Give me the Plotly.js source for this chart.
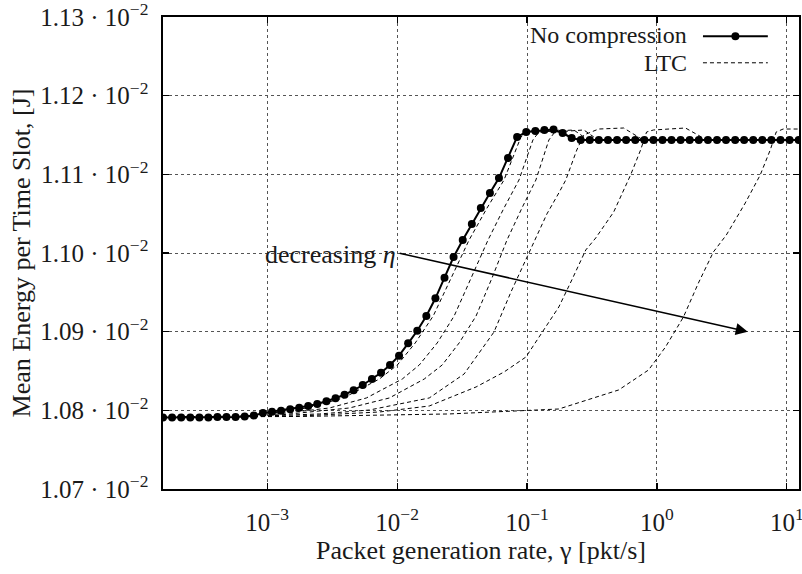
<!DOCTYPE html>
<html><head><meta charset="utf-8">
<script src="https://cdn.plot.ly/plotly-3.0.1.min.js"></script>
<style>body{margin:0;background:#fff}</style>
</head><body><div id="chart" style="width:802px;height:574px"></div>
<script>
// Energy values are in units of 10^-2 J
const gamma = [1.578e-4,1.854e-4,2.178e-4,2.559e-4,3.006e-4,3.528e-4,4.14e-4,4.86e-4,5.71e-4,6.71e-4,
 7.89e-4,9.27e-4,1.089e-3,1.279e-3,1.503e-3,1.764e-3,2.07e-3,2.43e-3,2.86e-3,3.36e-3,
 3.94e-3,4.63e-3,5.44e-3,6.40e-3,7.52e-3,8.82e-3,1.035e-2,1.216e-2,1.429e-2,1.679e-2,
 1.972e-2,2.317e-2,2.72e-2,3.20e-2,3.76e-2,4.41e-2,5.18e-2,6.08e-2,7.14e-2,8.39e-2,
 9.86e-2,0.1159,0.1361,0.160,0.188,0.2206,0.259,0.304,0.357,0.420,
 0.493,0.579,0.681,0.800,0.940,1.103,1.294,1.521,1.786,2.10,
 2.47,2.90,3.40,4.00,4.69,5.51,6.47,7.60,8.93,10.49,12.33];
const noComp = [1.07909,1.07909,1.07909,1.07909,1.07909,1.07909,1.07915,1.07915,1.07915,1.07922,
 1.07934,1.07966,1.07983,1.07996,1.08013,1.08034,1.08055,1.08081,1.08115,1.08153,
 1.08199,1.08255,1.08322,1.08398,1.08478,1.08576,1.08695,1.08852,1.09012,1.09199,
 1.09424,1.09686,1.09949,1.10165,1.10369,1.10572,1.10763,1.10953,1.11208,1.11475,
 1.11538,1.11551,1.11564,1.11570,1.11525,1.11462,1.11437,1.11437,1.11437,1.11437,
 1.11437,1.11437,1.11437,1.11437,1.11437,1.11437,1.11437,1.11437,1.11437,1.11437,
 1.11437,1.11437,1.11437,1.11437,1.11437,1.11437,1.11437,1.11437,1.11437,1.11437,1.11437];

// LTC curves, one per compression ratio (eta decreasing to the right)
const ltc1X = [1.578e-4,7.34e-4,2.01e-3,3.865e-3,7.30e-3,1.0035e-2,1.379e-2,1.896e-2,2.606e-2,3.581e-2,4.923e-2,6.65e-2,8.98e-2,0.1034,0.1757,0.2173,0.2502,12.33];
const ltc1Y = [1.07915,1.07922,1.08030,1.08157,1.08398,1.08576,1.08856,1.09199,1.09682,1.10165,1.10572,1.10928,1.11475,1.11551,1.11564,1.11462,1.11437,1.11437];
const ltc2X = [1.578e-4,8.76e-4,3.018e-3,5.80e-3,1.096e-2,1.481e-2,2.035e-2,2.748e-2,3.711e-2,5.01e-2,6.65e-2,8.67e-2,0.1110,0.1234,0.2291,0.2882,0.3262,12.33];
const ltc2Y = [1.07915,1.07928,1.08030,1.08157,1.08398,1.08576,1.08856,1.09199,1.09682,1.10165,1.10572,1.10928,1.11437,1.11538,1.11564,1.11449,1.11437,1.11437];
const ltc3X = [1.578e-4,1.045e-3,4.296e-3,8.71e-3,1.617e-2,2.223e-2,3.002e-2,4.053e-2,5.377e-2,7.01e-2,9.14e-2,0.1170,0.1473,0.1637,0.2734,0.3439,0.3892,12.33];
const ltc3Y = [1.07915,1.07928,1.08030,1.08157,1.08398,1.08576,1.08856,1.09199,1.09682,1.10165,1.10572,1.10928,1.11437,1.11538,1.11564,1.11449,1.11437,1.11437];
const ltc4X = [1.578e-4,7.34e-4,2.528e-3,6.117e-3,1.767e-2,3.279e-2,5.57e-2,7.52e-2,0.1034,0.1422,0.1757,0.1988,0.2415,0.2734,0.3562,0.5542,0.7617,0.8620,12.33];
const ltc4Y = [1.07915,1.07922,1.07954,1.08004,1.08157,1.08462,1.08996,1.09504,1.10000,1.10496,1.10763,1.10928,1.11309,1.11500,1.11576,1.11589,1.11449,1.11437,1.11437];
const ltc5X = [1.578e-4,1.776e-3,7.30e-3,1.767e-2,4.053e-2,6.65e-2,9.81e-2,0.1757,0.2212,0.2831,0.3379,0.4645,0.6271,0.7483,0.8322,0.9416,1.658,2.199,2.489,12.33];
const ltc5Y = [1.07915,1.07928,1.07979,1.08055,1.08297,1.08487,1.08678,1.09314,1.09657,1.10038,1.10191,1.10521,1.10992,1.11309,1.11538,1.11564,1.11589,1.11475,1.11437,1.11437];
const ltc6X = [1.578e-4,1.776e-3,2.515e-2,0.1757,0.5074,0.8620,1.164,1.600,2.086,2.719,3.421,4.786,6.238,7.444,8.278,9.367,12.33];
const ltc6Y = [1.07915,1.07922,1.07954,1.08017,1.08259,1.08513,1.08805,1.09187,1.09619,1.10013,1.10229,1.10636,1.10992,1.11309,1.11538,1.11576,1.11576];

const yTickVals = [1.07,1.08,1.09,1.10,1.11,1.12,1.13];
const yTickLabels = ['1.07','1.08','1.09','1.10','1.11','1.12','1.13'];
const xTickVals = [1e-3,1e-2,1e-1,1,10];
const xTickExps = ['−3','−2','−1','0','1'];

const FONT = 'Liberation Serif, Times New Roman, serif';
const FS = 26;
const LFS = 24;
const TXT = '#1a1a1a';
const ltcX = [ltc1X, ltc2X, ltc3X, ltc4X, ltc5X, ltc6X];
const ltcY = [ltc1Y, ltc2Y, ltc3Y, ltc4Y, ltc5Y, ltc6Y];
const traces = [];
ltcX.forEach((xs, k) => {
  traces.push({x: xs, y: ltcY[k], type: 'scatter', mode: 'lines', line: {color: '#000', width: 1, dash: '4px,3px'},
    showlegend: false, hoverinfo: 'skip'});
});
traces.push({x: gamma, y: noComp, type: 'scatter', mode: 'lines+markers',
  line: {color: '#000', width: 2}, marker: {color: '#000', size: 8}, showlegend: false});

const axisCommon = {showline: true, mirror: 'ticks', linecolor: '#000', linewidth: 1.6,
  ticks: 'inside', ticklen: 6, tickcolor: '#000', tickwidth: 1.2, showgrid: true, gridcolor: '#555', griddash: 'dot', gridwidth: 1,
  zeroline: false, ticklabeloverflow: 'allow', tickfont: {family: FONT, size: 25, color: TXT}};

const layout = {
  width: 802, height: 574, margin: {l: 163, r: 3, t: 17, b: 85},
  paper_bgcolor: '#fff', plot_bgcolor: '#fff', font: {family: FONT, color: TXT},
  xaxis: Object.assign({}, axisCommon, {type: 'log', range: [Math.log10(1.578e-4), Math.log10(12.4)],
    tickvals: xTickVals, ticktext: xTickExps.map(e => '10<sup>' + e + '</sup>'), ticklabelstandoff: 10,
    title: {text: 'Packet generation rate, γ [pkt/s]', font: {family: FONT, size: FS, color: TXT}, standoff: 6}}),
  yaxis: Object.assign({}, axisCommon, {range: [1.07, 1.13], tickvals: yTickVals,
    ticktext: yTickLabels.map(s => s + ' · 10<sup>−2</sup>'), ticklabelstandoff: 8,
    title: {text: 'Mean Energy per Time Slot, [J]', font: {family: FONT, size: FS, color: TXT}, standoff: 2}}),
  showlegend: false,
  annotations: [
    {x: Math.log10(5.0), y: 1.0900, ax: Math.log10(0.0102), ay: 1.1000, xref: 'x', yref: 'y', axref: 'x', ayref: 'y',
     text: '', showarrow: true, arrowhead: 2, arrowsize: 1.5, arrowwidth: 1.6, arrowcolor: '#000'},
    {x: Math.log10(0.0102), y: 1.0998, xref: 'x', yref: 'y', xanchor: 'right', yanchor: 'middle', showarrow: false,
     text: 'decreasing <i>η</i>', font: {family: FONT, size: FS, color: TXT}},
    {x: 0.826, y: 0.961, xref: 'paper', yref: 'paper', xanchor: 'right', yanchor: 'middle', showarrow: false,
     borderpad: 0, text: 'No compression', font: {family: FONT, size: LFS, color: TXT}},
    {x: 0.826, y: 0.902, xref: 'paper', yref: 'paper', xanchor: 'right', yanchor: 'middle', showarrow: false,
     borderpad: 0, text: 'LTC', font: {family: FONT, size: LFS, color: TXT}}
  ],
  shapes: [
    {type: 'line', xref: 'paper', yref: 'paper', x0: 0.849, x1: 0.951, y0: 0.959, y1: 0.959, line: {color: '#000', width: 2}},
    {type: 'circle', xref: 'paper', yref: 'paper', xsizemode: 'pixel', ysizemode: 'pixel', xanchor: 0.9, yanchor: 0.959,
     x0: -4, x1: 4, y0: -4, y1: 4, fillcolor: '#000', line: {color: '#000', width: 0}},
    {type: 'line', xref: 'paper', yref: 'paper', x0: 0.849, x1: 0.951, y0: 0.903, y1: 0.903, line: {color: '#000', width: 1, dash: '4px,3px'}}
  ]
};
Plotly.newPlot('chart', traces, layout, {displayModeBar: false, staticPlot: true});
</script></body></html>
